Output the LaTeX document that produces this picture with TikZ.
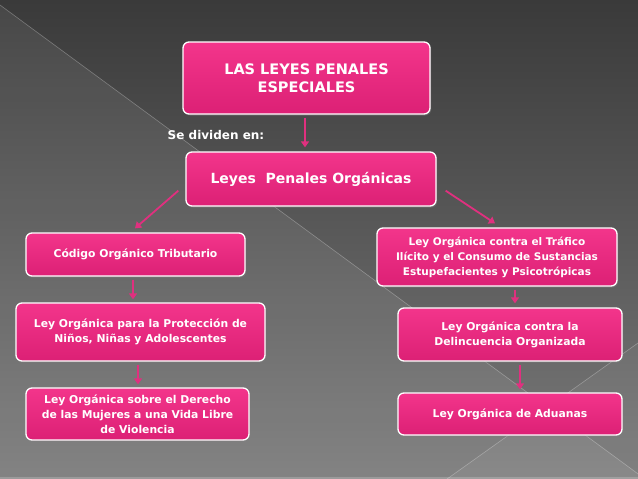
\documentclass[tikz,border=0pt]{standalone}
\usepackage{fontspec}
\setmainfont{DejaVu Sans}
\usetikzlibrary{shadows,arrows.meta,calc}
\definecolor{boxtop}{HTML}{F3358B}
\definecolor{boxbot}{HTML}{DC2075}
\definecolor{arrowpink}{HTML}{E0307F}
\definecolor{bgtop}{HTML}{3A3A3A}
\definecolor{bgbot}{HTML}{7A7A7A}
\tikzset{
  box/.style={draw=white, line width=1.3pt, rounded corners=6pt,
    top color=boxtop, bottom color=boxbot, text=white, align=center,
    inner sep=0pt, font=\bfseries\fontsize{10.8}{15}\selectfont,
    drop shadow={shadow xshift=1.2pt, shadow yshift=-1.5pt, opacity=0.45}},
  arr/.style={draw=arrowpink, line width=1.8pt, -{Triangle[length=6pt,width=8pt]}},
  bgline/.style={draw=white, opacity=0.28, line width=0.6pt}
}
\begin{document}
\begin{tikzpicture}[x=1pt,y=-1pt]
\useasboundingbox (0,0) rectangle (638,479);
% background
\shade[top color=bgtop, bottom color=bgbot] (0,0) rectangle (638,479);
\fill[white, opacity=0.07] (0,5) -- (645,479) -- (0,479) -- cycle;
\fill[white, opacity=0.05] (447,479) -- (638,343) -- (638,479) -- cycle;
\draw[bgline] (0,5) -- (645,479);
\draw[bgline] (447,479) -- (638,343);
\fill[white, opacity=0.2] (0,477) rectangle (638,479);

% nodes
\node[box, minimum width=247pt, minimum height=72pt,
      font=\bfseries\fontsize{14.5}{18}\selectfont] (top) at (306.5,78)
  {LAS LEYES PENALES\\ESPECIALES};
\node[text=white, font=\bfseries\fontsize{12}{14}\selectfont, inner sep=0pt] (lbl) at (216,135) {Se dividen en:};
\node[box, minimum width=250pt, minimum height=54pt,
      font=\bfseries\fontsize{14}{16}\selectfont] (mid) at (311,179)
  {Leyes\ \ Penales Orgánicas};
\node[box, minimum width=219pt, minimum height=43pt] (L1) at (135.5,254.5)
  {Código Orgánico Tributario};
\node[box, minimum width=249pt, minimum height=58pt] (L2) at (140.5,332)
  {Ley Orgánica para la Protección de\\Niños, Niñas y Adolescentes};
\node[box, minimum width=223pt, minimum height=52pt] (L3) at (137.5,414)
  {Ley Orgánica sobre el Derecho\\de las Mujeres a una Vida Libre\\de Violencia};
\node[box, minimum width=240pt, minimum height=58pt,
      font=\bfseries\fontsize{10.5}{15}\selectfont] (R1) at (497,257)
  {Ley Orgánica contra el Tráfico\\Ilícito y el Consumo de Sustancias\\Estupefacientes y Psicotrópicas};
\node[box, minimum width=224pt, minimum height=53pt] (R2) at (510,334.5)
  {Ley Orgánica contra la\\Delincuencia Organizada};
\node[box, minimum width=224pt, minimum height=42pt] (R3) at (510,414)
  {Ley Orgánica de Aduanas};

% connectors
\draw[arr] ($(top.south)+(-1.5,3)$) -- ($(top.south |- mid.north)+(-1.5,-4)$);
\draw[arr] ($(mid.south west)+(-7,-16)$) -- ($(L1.north)+(-0.5,-4)$);
\draw[arr] ($(mid.south east)+(9,-16)$) -- ($(R1.north)+(-2,-4)$);
\draw[arr] ($(L1.south)+(-2.5,3)$) -- ($(L1.south |- L2.north)+(-2.5,-3)$);
\draw[arr] ($(L2.south)+(-2.5,3)$) -- ($(L2.south |- L3.north)+(-2.5,-3)$);
\draw[arr] ($(R1.south)+(18,3)$) -- ($(R1.south |- R2.north)+(18,-4)$);
\draw[arr] ($(R2.south)+(10,3)$) -- ($(R2.south |- R3.north)+(10,-3)$);
\end{tikzpicture}
\end{document}
